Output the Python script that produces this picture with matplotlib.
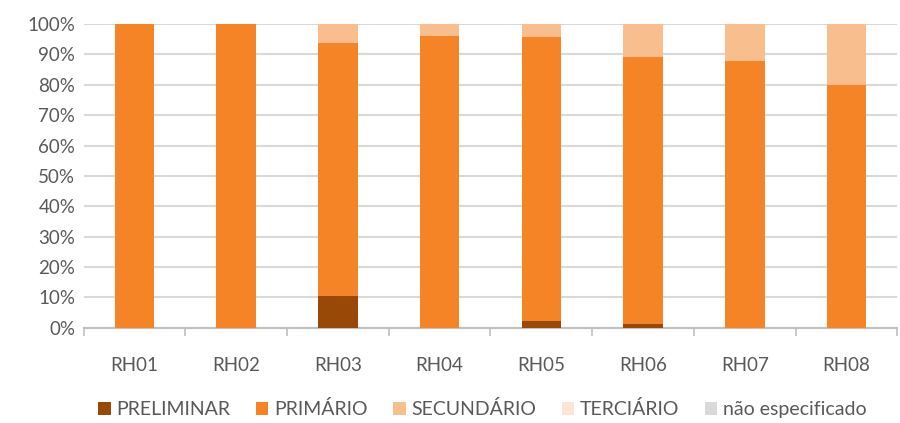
import matplotlib
import matplotlib.pyplot as plt
import numpy as np

matplotlib.use("Agg")

regions = ["RH01", "RH02", "RH03", "RH04", "RH05", "RH06", "RH07", "RH08"]
preliminar = [0.0, 0.0, 10.5, 0.0, 2.3, 1.3, 0.0, 0.0]
primario = [100.0, 100.0, 83.3, 96.0, 93.4, 87.8, 87.8, 80.0]
secundario = [0.0, 0.0, 6.2, 4.0, 4.3, 10.9, 12.2, 20.0]
terciario = [0.0, 0.0, 0.0, 0.0, 0.0, 0.0, 0.0, 0.0]
nao_especificado = [0.0, 0.0, 0.0, 0.0, 0.0, 0.0, 0.0, 0.0]

series = [
    ("PRELIMINAR", preliminar, "#984807"),
    ("PRIMÁRIO", primario, "#F58426"),
    ("SECUNDÁRIO", secundario, "#F9BE8D"),
    ("TERCIÁRIO", terciario, "#FDE5D3"),
    ("não especificado", nao_especificado, "#D9D9D9"),
]

plt.rcParams["font.family"] = ["Lato", "DejaVu Sans"]
TEXT = "#595959"

fig = plt.figure(figsize=(9, 4.23), dpi=100)
ax = fig.add_axes([0.093, 0.225, 0.904, 0.718])

x = np.arange(len(regions))
bottom = np.zeros(len(regions))
for name, vals, color in series:
    v = np.array(vals)
    ax.bar(x, v, width=0.39, bottom=bottom, color=color, label=name, zorder=3)
    bottom += v

ax.set_xlim(-0.5, len(regions) - 0.5)
ax.set_ylim(0, 100)
ax.set_yticks(np.arange(0, 101, 10))
ax.set_yticklabels([f"{v}%" for v in range(0, 101, 10)])
ax.yaxis.grid(True, color="#D9D9D9", linewidth=1.5, zorder=0)
ax.set_axisbelow(True)

ax.set_xticks(x)
ax.set_xticklabels(regions)
ax.set_xticks(np.arange(-0.5, len(regions)), minor=True)
ax.tick_params(axis="x", which="major", length=0, pad=21, labelsize=13.5, labelcolor=TEXT)
ax.tick_params(axis="x", which="minor", length=6, width=1.2, color="#BFBFBF")
ax.tick_params(axis="y", length=0, pad=6, labelsize=13.5, labelcolor=TEXT)

for side in ["top", "right", "left"]:
    ax.spines[side].set_visible(False)
ax.spines["bottom"].set_color("#BFBFBF")
ax.spines["bottom"].set_linewidth(1.5)

fig.legend(
    loc="lower center",
    bbox_to_anchor=(0.536, -0.03),
    ncol=5,
    frameon=False,
    fontsize=14,
    labelcolor=TEXT,
    handlelength=0.65,
    handleheight=0.65,
    handletextpad=0.3,
    columnspacing=1.3,
)

fig.savefig("out.png", dpi=100)
